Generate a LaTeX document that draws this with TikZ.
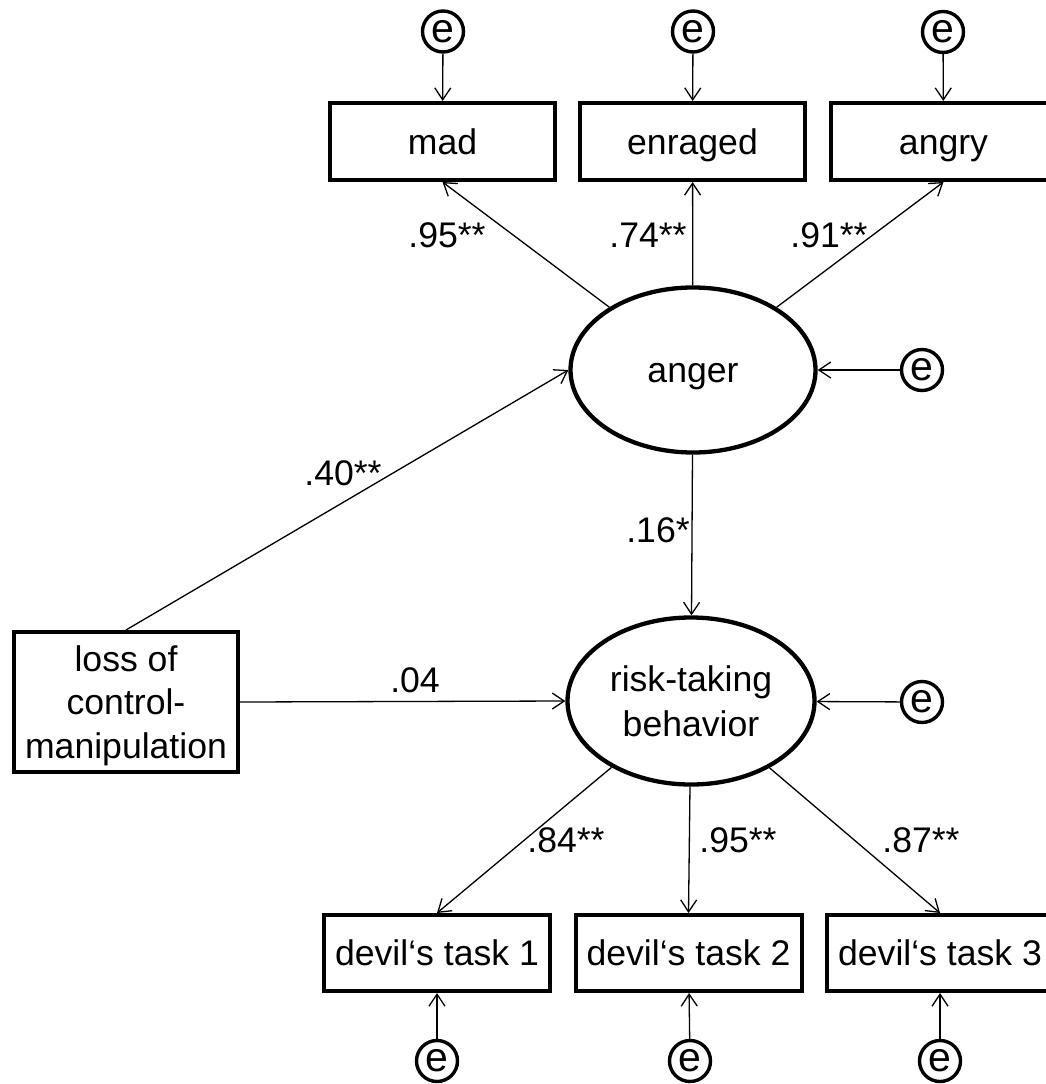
\documentclass[tikz,border=0pt]{standalone}
\usepackage{fontspec}
\setmainfont{Liberation Sans}
\usetikzlibrary{shapes.geometric,arrows.meta}
\tikzset{
  txt/.style={font=\fontsize{35.6}{43.5}\selectfont},
  obs/.style={txt, draw, line width=4pt, minimum width=225pt, minimum height=77pt, inner sep=0pt, text height=25.5pt, text depth=0pt},
  lat/.style={txt, draw, ellipse, line width=4.3pt, inner sep=0pt, align=center},
  err/.style={draw, circle, line width=3.4pt, minimum size=41pt, inner sep=0pt, font=\fontsize{41}{41}\selectfont, text height=21.3pt, text depth=0pt},
  path/.style={line width=1.3pt, -{Straight Barb[length=12pt,width=16pt]}},
  coef/.style={txt, inner sep=0pt, text height=25.5pt, text depth=0pt},
}
\begin{document}
\begin{tikzpicture}[x=1pt,y=-1pt]
\useasboundingbox (0,0) rectangle (1045,1084);
% indicators of anger
\node[err] (e1) at (443,31.5) {e};
\node[err] (e2) at (693,31.5) {e};
\node[err] (e3) at (943,32) {e};
\node[obs] (mad) at (442.5,141.5) {mad};
\node[obs] (enr) at (692.5,141.5) {enraged};
\node[obs] (ang) at (943.5,141.5) {angry};
% latent variables
\node[lat, minimum width=245pt, minimum height=165pt, text height=25.5pt, text depth=0pt] (anger) at (693,370) {anger};
\node[err] (ea) at (922,370) {e};
\node[lat, minimum width=247pt, minimum height=167pt, font=\fontsize{35.6}{45}\selectfont] (risk) at (691,701) {risk-taking\\behavior};
\node[err] (er) at (922,702) {e};
% manipulation
\node[txt, draw, line width=4pt, minimum width=224pt, minimum height=140pt, inner sep=0pt, align=center, text depth=0pt] (loss) at (126,702) {loss of\\control-\\manipulation};
% indicators of risk-taking
\node[obs, minimum width=226pt, minimum height=76pt] (d1) at (437,953) {devil‘s task 1};
\node[obs, minimum width=226pt, minimum height=76pt] (d2) at (688.5,953) {devil‘s task 2};
\node[obs, minimum width=226pt, minimum height=76pt] (d3) at (940,953) {devil‘s task 3};
\node[err] (b1) at (437,1061) {e};
\node[err] (b2) at (690,1061) {e};
\node[err] (b3) at (940,1061) {e};
% connectors
\draw[path] (e1) -- (mad);
\draw[path] (e2) -- (enr);
\draw[path] (e3) -- (ang);
\draw[path] (anger) -- (mad.south);
\draw[path] (anger) -- (enr);
\draw[path] (anger) -- (ang.south);
\draw[path] (ea) -- (anger);
\draw[path] (loss.north) -- (anger.west);
\draw[path] (anger) -- (risk);
\draw[path] (loss.east) -- (risk.west);
\draw[path] (er) -- (risk);
\draw[path] (risk) -- (d1.north);
\draw[path] (risk) -- (d2.north);
\draw[path] (risk) -- (d3.north);
\draw[path] (b1) -- (d1);
\draw[path] (b2) -- (d2);
\draw[path] (b3) -- (d3);
% coefficients
\node[coef] (c1) at (447,235) {.95**};
\node[coef] (c2) at (648,235) {.74**};
\node[coef] (c3) at (829,235) {.91**};
\node[coef] (c4) at (343,473) {.40**};
\node[coef] (c5) at (658,530) {.16*};
\node[coef] (c6) at (415,680) {.04};
\node[coef] (c7) at (566,840) {.84**};
\node[coef] (c8) at (738,840) {.95**};
\node[coef] (c9) at (921,840) {.87**};
\end{tikzpicture}
\end{document}
